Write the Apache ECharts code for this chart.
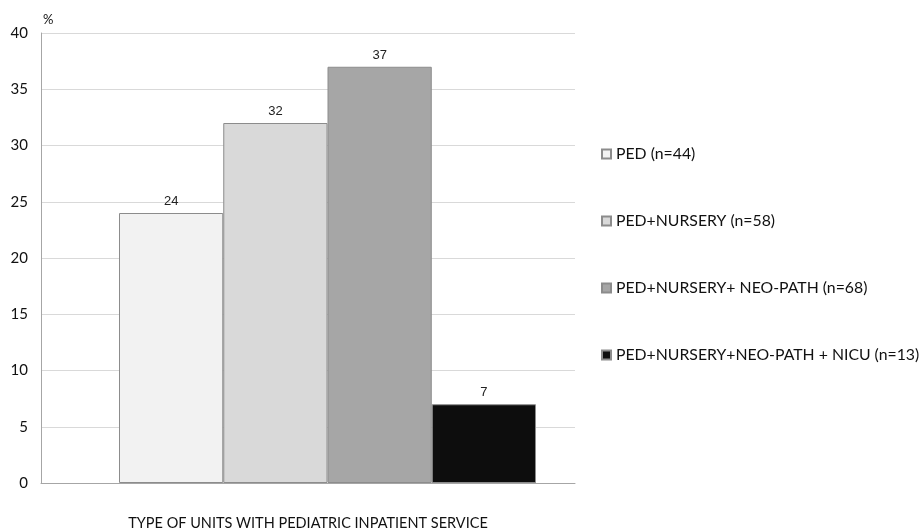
<!DOCTYPE html>
<html>
<head>
<meta charset="utf-8">
<script src="https://cdn.jsdelivr.net/npm/echarts@6/dist/echarts.min.js"></script>
<style>html,body{margin:0;padding:0;background:#fff;}#c{width:921px;height:531px;}</style>
</head>
<body>
<div id="c"></div>
<script>
const seriesNames = ['PED (n=44)', 'PED+NURSERY (n=58)', 'PED+NURSERY+ NEO-PATH (n=68)', 'PED+NURSERY+NEO-PATH + NICU (n=13)'];
const values = [24, 32, 37, 7];
const colors = ['#f2f2f2', '#d9d9d9', '#a6a6a6', '#0d0d0d'];
const yTicks = [0, 5, 10, 15, 20, 25, 30, 35, 40];
const xTitle = 'TYPE OF UNITS WITH PEDIATRIC INPATIENT SERVICE';

const chart = echarts.init(document.getElementById('c'));
const series = seriesNames.map((n, i) => ({
  name: n,
  type: 'bar',
  xAxisIndex: 1,
  yAxisIndex: 1,
  data: [values[i]],
  barGap: '0%',
  barCategoryGap: '0%',
  itemStyle: { color: colors[i], borderColor: '#8c8c8c', borderWidth: 1 },
  label: { show: true, position: 'top', distance: 5, color: '#222', fontFamily: 'Liberation Sans', fontSize: 13 },
  emphasis: { disabled: true },
  animation: false
}));
chart.setOption({
  animation: false,
  grid: [
    { left: 41, right: 346, top: 33, bottom: 48, outerBoundsMode: 'none', containLabel: false },
    { left: 119, right: 385, top: 33, bottom: 48, outerBoundsMode: 'none', containLabel: false }
  ],
  xAxis: [
    { gridIndex: 0, type: 'category', data: [''], axisTick: { show: false }, axisLabel: { show: false },
      axisLine: { lineStyle: { color: '#a6a6a6', width: 1 } },
      name: xTitle, nameLocation: 'middle', nameGap: 33,
      nameTextStyle: { color: '#111', fontFamily: 'Lato', fontSize: 14.5 } },
    { gridIndex: 1, type: 'category', data: [''], show: false }
  ],
  yAxis: [
    { gridIndex: 0, type: 'value', min: yTicks[0], max: yTicks[yTicks.length - 1], interval: 5,
      axisLine: { show: true, lineStyle: { color: '#a6a6a6' } }, axisTick: { show: false },
      axisLabel: { color: '#111', fontFamily: 'Lato', fontSize: 15, margin: 13 },
      splitLine: { lineStyle: { color: '#d9d9d9' } } },
    { gridIndex: 1, type: 'value', min: yTicks[0], max: yTicks[yTicks.length - 1], interval: 5, show: false, splitLine: { show: false } }
  ],
  legend: {
    orient: 'vertical', left: 601, top: 146, padding: 0, icon: 'rect', itemWidth: 9, itemHeight: 9, itemGap: 51,
    textStyle: { color: '#111', fontFamily: 'Lato', fontSize: 15.8, lineHeight: 16 },
    data: seriesNames
  },
  graphic: [
    { type: 'text', left: 43, top: 13, style: { text: '%', fill: '#111', font: '13px Lato' } }
  ],
  series: series
});
</script>
</body>
</html>
